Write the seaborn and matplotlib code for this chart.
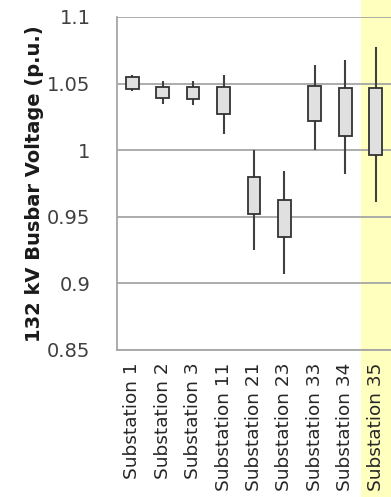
import numpy as np
import pandas as pd
import matplotlib
matplotlib.use('Agg')
import matplotlib.pyplot as plt
import matplotlib.transforms as mtransforms
from matplotlib.patches import Rectangle
import seaborn as sns

# Substations and their high-low / box (open-close) voltages in p.u.
stations = ['Substation 1', 'Substation 2', 'Substation 3', 'Substation 11',
            'Substation 21', 'Substation 23', 'Substation 33', 'Substation 34',
            'Substation 35']
high = [1.0567, 1.0522, 1.0522, 1.0567, 1.0000, 0.9842, 1.0642, 1.0677, 1.0772]
box_top = [1.0547, 1.0472, 1.0472, 1.0472, 0.9797, 0.9626, 1.0482, 1.0465, 1.0465]
box_bottom = [1.0460, 1.0394, 1.0384, 1.0274, 0.9523, 0.9350, 1.0217, 1.0104, 0.9964]
low = [1.0442, 1.0347, 1.0337, 1.0122, 0.9250, 0.9070, 1.0000, 0.9821, 0.9609]
highlight = 'Substation 35'

# long table: low, box bottom (twice, so the hidden median sits on it), box top, high
rows = []
for s, lo, bb, bt, hi in zip(stations, low, box_bottom, box_top, high):
    for v in [lo, bb, bb, bt, hi]:
        rows.append({'station': s, 'voltage': v})
df = pd.DataFrame(rows)

sns.set_style('white')
plt.rcParams['font.family'] = ['DejaVu Sans']

fig = plt.figure(figsize=(3.91, 4.97), dpi=100)
ax = fig.add_axes([0.2992, 0.2958, 0.7008, 0.67])

sns.boxplot(data=df, x='station', y='voltage', order=stations, ax=ax,
            whis=np.inf, width=0.42, showcaps=False, fliersize=0,
            color='#e0e0e0', linecolor='#3a3a3a', linewidth=1.3,
            boxprops=dict(facecolor='#e0e0e0', edgecolor='#333333', zorder=3),
            whiskerprops=dict(color='#404040', linewidth=1.5, zorder=2),
            medianprops=dict(linewidth=0))

# yellow highlight behind the last substation, full figure height
idx = stations.index(highlight)
trans = mtransforms.blended_transform_factory(ax.transData, fig.transFigure)
ax.add_patch(Rectangle((idx - 0.5, 0), 1.0, 1.0, transform=trans,
                       facecolor='#ffffbe', edgecolor='none',
                       clip_on=False, zorder=0))

ax.set_ylim(0.85, 1.1)
ax.set_xlim(-0.5, len(stations) - 0.5)
ax.set_yticks([0.85, 0.9, 0.95, 1.0, 1.05, 1.1])
ax.set_yticklabels(['0.85', '0.9', '0.95', '1', '1.05', '1.1'])
ax.yaxis.grid(True, color='#a6a6a6', linewidth=1.3, zorder=1)
ax.set_axisbelow(True)

ax.set_xticks(range(len(stations)))
ax.set_xticklabels(stations, rotation=90)
ax.set_xticks(np.arange(-0.5, len(stations) - 0.5, 1.0), minor=True)
ax.tick_params(axis='x', which='major', length=0, pad=9, labelsize=13.3,
               labelcolor='#262626')
ax.tick_params(axis='x', which='minor', length=5, width=1.2, color='#a6a6a6',
               direction='out')
ax.tick_params(axis='y', length=6, width=1.2, color='#a6a6a6', direction='out',
               labelsize=14, labelcolor='#404040', pad=13)

ax.set_xlabel('')
ax.set_ylabel('132 kV Busbar Voltage (p.u.)', fontsize=14, fontweight='bold',
              color='#1a1a1a', labelpad=2)

for side in ['top', 'right']:
    ax.spines[side].set_visible(False)
for side in ['left', 'bottom']:
    ax.spines[side].set_color('#a6a6a6')
    ax.spines[side].set_linewidth(1.3)

fig.savefig('out.png', dpi=100)
